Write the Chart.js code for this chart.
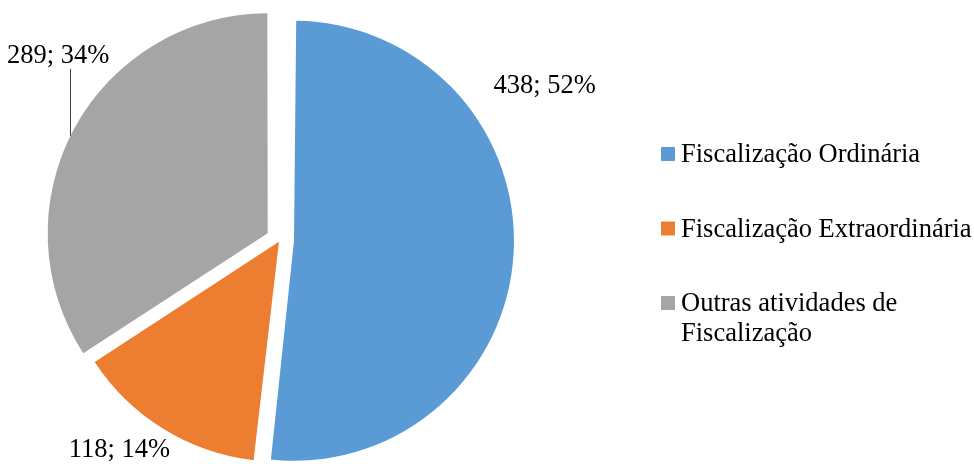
<!DOCTYPE html>
<html>
<head>
<meta charset="utf-8">
<script src="https://cdn.jsdelivr.net/npm/chart.js@4"></script>
<style>
  body { margin: 0; background: #fff; }
</style>
</head>
<body>
<canvas id="chartFiscalizacao" width="974" height="464"></canvas>
<script>
var categorias = ['Fiscalização Ordinária', 'Fiscalização Extraordinária', 'Outras atividades de Fiscalização'];
var quantidades = [438, 118, 289];
var cores = ['#5B9BD5', '#ED7D31', '#A5A5A5'];

var FONTE = '26.5px "Liberation Serif", "Times New Roman", serif';

// destaque de cada fatia (o Chart.js desloca offset/4 px)
var destaques = [56, 8, 56];

// rótulos: ângulo (graus a partir do topo, sentido horário) e distância ao centro
var posRotulos = [
    { ang: 60.9, dist: 303 },
    { ang: 216.5, dist: 270 },
    { ang: 308.6, dist: 284, linha: true }
];

// o Chart.js aumenta o raio das fatias destacadas; aqui mantemos o raio igual
var raioPlugin = {
    id: 'raioUniforme',
    beforeDatasetDraw: function(chart, args) {
        args.meta.data.forEach(function(arc) {
            var off = (arc.options.offset || 0) / 4;
            arc._extra = off * (1 - Math.sin(Math.min(Math.PI, arc.circumference)));
            arc.outerRadius -= arc._extra;
        });
    },
    afterDatasetDraw: function(chart, args) {
        args.meta.data.forEach(function(arc) {
            arc.outerRadius += arc._extra;
        });
    }
};

var rotulosPlugin = {
    id: 'rotulos',
    afterDatasetsDraw: function(chart) {
        var ctx = chart.ctx;
        var meta = chart.getDatasetMeta(0);
        var total = quantidades.reduce(function(a, b) { return a + b; }, 0);
        ctx.save();
        ctx.font = FONTE;
        ctx.fillStyle = '#000';
        ctx.textAlign = 'center';
        ctx.textBaseline = 'alphabetic';
        meta.data.forEach(function(arc, i) {
            var p = posRotulos[i];
            var a = (p.ang - 90) * Math.PI / 180;
            var x = arc.x + Math.cos(a) * p.dist;
            var y = arc.y + Math.sin(a) * p.dist;
            var txt = quantidades[i] + '; ' + Math.round(quantidades[i] / total * 100) + '%';
            ctx.fillText(txt, x, y);
            if (p.linha) {
                // linha de chamada até a borda da fatia
                var off = (arc.options.offset || 0) / 4;
                var meio = (arc.startAngle + arc.endAngle) / 2;
                var cx = arc.x + Math.cos(meio) * off;
                var cy = arc.y + Math.sin(meio) * off;
                var r = arc.outerRadius;
                var lx = Math.round(x + 12) + 0.5;
                var ly = cy - Math.sqrt(r * r - (lx - cx) * (lx - cx));
                ctx.strokeStyle = '#404040';
                ctx.lineWidth = 1;
                ctx.beginPath();
                ctx.moveTo(lx, y + 6);
                ctx.lineTo(lx, ly);
                ctx.stroke();
            }
        });
        ctx.restore();
    }
};

var legendaPlugin = {
    id: 'legenda',
    afterDraw: function(chart) {
        var ctx = chart.ctx;
        var x0 = 661, topo = 147, passo = 74.5, lado = 14, larguraMax = 300, alturaLinha = 30;
        ctx.save();
        ctx.font = FONTE;
        ctx.textAlign = 'left';
        ctx.textBaseline = 'alphabetic';
        categorias.forEach(function(cat, i) {
            var y = topo + i * passo;
            ctx.fillStyle = cores[i];
            ctx.fillRect(x0, y, lado, lado);
            ctx.fillStyle = '#000';
            // quebra de linha simples por palavras
            var palavras = cat.split(' ');
            var linhas = [];
            var atual = '';
            palavras.forEach(function(w) {
                var teste = atual ? atual + ' ' + w : w;
                if (ctx.measureText(teste).width > larguraMax && atual) {
                    linhas.push(atual);
                    atual = w;
                } else {
                    atual = teste;
                }
            });
            linhas.push(atual);
            linhas.forEach(function(l, k) {
                ctx.fillText(l, x0 + 20, y + 15 + k * alturaLinha);
            });
        });
        ctx.restore();
    }
};

var ctx = document.getElementById('chartFiscalizacao').getContext('2d');
var myChart = new Chart(ctx, {
    type: 'pie',
    data: {
        labels: categorias,
        datasets: [{
            data: quantidades,
            backgroundColor: cores,
            borderWidth: 0,
            offset: destaques,
            hoverOffset: 0,
            radius: 220
        }]
    },
    options: {
        responsive: false,
        animation: false,
        events: [],
        layout: {
            padding: { left: 0, right: 414, top: 16, bottom: 0 }
        },
        plugins: {
            legend: { display: false },
            tooltip: { enabled: false }
        }
    },
    plugins: [raioPlugin, rotulosPlugin, legendaPlugin]
});
</script>
</body>
</html>
